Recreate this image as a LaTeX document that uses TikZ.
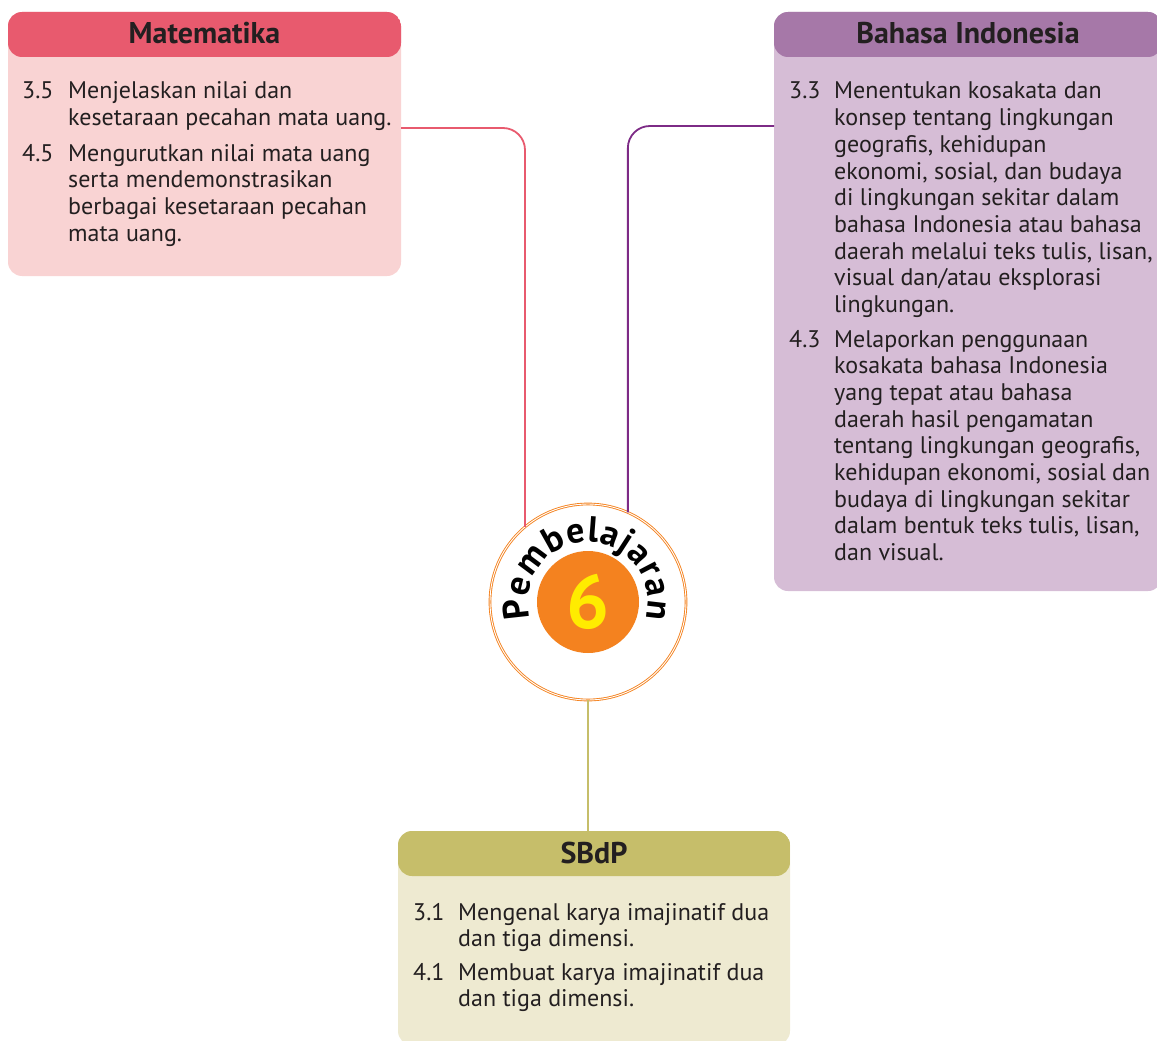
\documentclass[tikz,border=0pt]{standalone}
\usepackage{fontspec}
\setmainfont{PT Sans}
\usetikzlibrary{positioning, calc, decorations.text}
\definecolor{mathRose}{HTML}{E85A6E}
\definecolor{mathRoseBg}{HTML}{F9D3D3}
\definecolor{langPlum}{HTML}{A678A8}
\definecolor{langPlumBg}{HTML}{D6BDD6}
\definecolor{langLine}{HTML}{7D2B86}
\definecolor{artOlive}{HTML}{C6BE6A}
\definecolor{artOliveBg}{HTML}{EEEAD1}
\definecolor{hubOrange}{HTML}{F4821F}
\definecolor{hubYellow}{HTML}{FFEC00}
\definecolor{inkDark}{HTML}{231F20}
\newcommand{\kdlines}[1]{\begin{tabular}[t]{@{}l@{}}#1\end{tabular}}
\tikzset{
    subj_box/.style 2 args={
        rectangle, rounded corners=14pt, fill=#2, inner sep=0pt, outer sep=0pt,
        path picture={\fill[#1] (path picture bounding box.north west) rectangle ([yshift=-45pt]path picture bounding box.north east);}
    },
    subj_title/.style={
        anchor=base, inner sep=0pt, text=inkDark, font=\bfseries\fontsize{30}{30}\selectfont
    },
    kd_num/.style={
        anchor=base west, inner sep=0pt, text=inkDark, font=\fontsize{24}{26.7}\selectfont
    },
    kd_text/.style={
        anchor=base west, inner sep=0pt, text=inkDark, font=\fontsize{24}{26.7}\selectfont
    },
    link_line/.style={
        line width=1.8pt, rounded corners=22pt
    },
    hub_ring/.style={
        circle, fill=white, draw=hubOrange, line width=0.9pt, double=white, double distance=0.9pt,
        minimum size=196pt, inner sep=0pt, outer sep=0pt
    },
    hub_disc/.style={
        circle, fill=hubOrange, minimum size=102pt, inner sep=0pt,
        text=hubYellow, font=\bfseries\fontsize{76}{76}\selectfont
    }
}
\begin{document}
\begin{tikzpicture}[x=1pt, y=1pt]
    \useasboundingbox (0,0) rectangle (1157,-1041);

    % Subject boxes
    \node[subj_box={mathRose}{mathRoseBg}, minimum width=393pt, minimum height=264pt] (mat) at (204.5,-144) {};
    \node[subj_box={langPlum}{langPlumBg}, minimum width=388pt, minimum height=579pt] (lang) at (968,-301.5) {};
    \node[subj_box={artOlive}{artOliveBg}, minimum width=392pt, minimum height=214pt] (art) at (594,-938) {};

    \node[subj_title] (mat_title) at ([yshift=-32pt]mat.north) {Matematika};
    \node[subj_title] (lang_title) at ([yshift=-32pt]lang.north) {Bahasa Indonesia};
    \node[subj_title] (art_title) at ([yshift=-32pt]art.north) {SBdP};

    % Matematika
    \node[kd_num] (mat_n1) at (22,-99) {3.5};
    \node[kd_text] (mat_t1) at (68,-99) {\kdlines{Menjelaskan nilai dan\\kesetaraan pecahan mata uang.}};
    \node[kd_num] (mat_n2) at (22,-161) {4.5};
    \node[kd_text] (mat_t2) at (68,-161) {\kdlines{Mengurutkan nilai mata uang\\serta mendemonstrasikan\\berbagai kesetaraan pecahan\\mata uang.}};

    % Bahasa Indonesia
    \node[kd_num] (lang_n1) at (789,-99) {3.3};
    \node[kd_text] (lang_t1) at (834,-99) {\kdlines{Menentukan kosakata dan\\konsep tentang lingkungan\\geografis, kehidupan\\ekonomi, sosial, dan budaya\\di lingkungan sekitar dalam\\bahasa Indonesia atau bahasa\\daerah melalui teks tulis, lisan,\\visual dan/atau eksplorasi\\lingkungan.}};
    \node[kd_num] (lang_n2) at (789,-347) {4.3};
    \node[kd_text] (lang_t2) at (834,-347) {\kdlines{Melaporkan penggunaan\\kosakata bahasa Indonesia\\yang tepat atau bahasa\\daerah hasil pengamatan\\tentang lingkungan geografis,\\kehidupan ekonomi, sosial dan\\budaya di lingkungan sekitar\\dalam bentuk teks tulis, lisan,\\dan visual.}};

    % SBdP
    \node[kd_num] (art_n1) at (413,-920) {3.1};
    \node[kd_text] (art_t1) at (458,-920) {\kdlines{Mengenal karya imajinatif dua\\dan tiga dimensi.}};
    \node[kd_num] (art_n2) at (413,-980) {4.1};
    \node[kd_text] (art_t2) at (458,-980) {\kdlines{Membuat karya imajinatif dua\\dan tiga dimensi.}};

    % Centre badge
    \node[hub_ring] (hub) at (588,-602) {};
    \node[hub_disc] (hub_num) at (hub) {6};
    \path[decorate, decoration={text along path, text align=fit to path,
        text={|\bfseries\fontsize{36}{36}\selectfont|Pembelajaran}}]
        ([shift={(196:60)}]hub.center) arc[start angle=196, end angle=-16, radius=60];

    % Connectors
    \draw[link_line, mathRose] ([yshift=16pt]mat.east) -| (hub.130);
    \draw[link_line, langLine] ([yshift=175.5pt]lang.west) -| (hub.66);
    \draw[link_line, artOlive] (hub.south) -- (hub.south |- art.north);
\end{tikzpicture}
\end{document}
